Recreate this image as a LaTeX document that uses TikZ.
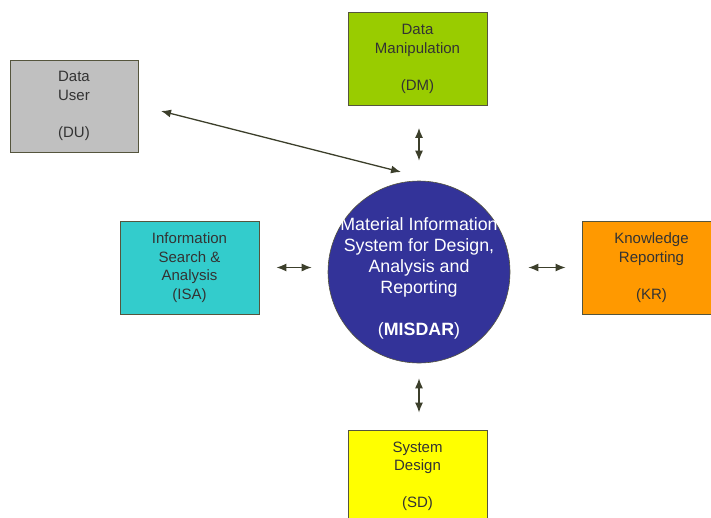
\documentclass[tikz,border=0pt]{standalone}
\usepackage{fontspec}
\setmainfont{Liberation Sans}
\usetikzlibrary{arrows.meta}

\definecolor{duGray}{HTML}{C0C0C0}
\definecolor{dmGreen}{HTML}{99CC00}
\definecolor{isaTeal}{HTML}{33CCCC}
\definecolor{krOrange}{HTML}{FF9900}
\definecolor{sdYellow}{HTML}{FFFF00}
\definecolor{misdarBlue}{HTML}{333399}
\definecolor{boxline}{HTML}{55553D}
\definecolor{boxtext}{HTML}{333333}
\definecolor{linkcol}{HTML}{3C3F2B}

\tikzset{
  unit/.style={draw=boxline, line width=0.8pt, inner sep=0pt,
    minimum width=139pt, minimum height=93pt, align=center,
    text=boxtext, font=\fontsize{15}{18.5}\selectfont},
  link/.style={draw=linkcol, line width=1.3pt,
    {Latex[length=10pt,width=8pt]}-{Latex[length=10pt,width=8pt]}},
}

\begin{document}
\begin{tikzpicture}[x=1pt, y=-1pt]
\useasboundingbox (0,0) rectangle (711,517);
\clip (0,0) rectangle (711,517);
% MISDAR core
\node[circle, fill=misdarBlue, draw=boxline, line width=0.6pt, minimum size=182pt, inner sep=0pt] (misdar) at (419,272) {};
\node[text=white, align=center, font=\fontsize{17.8}{21}\selectfont] (misdar-text) at ([yshift=-6pt]misdar.center)
  {Material Information\\System for Design,\\Analysis and\\Reporting\\~\\(\textbf{MISDAR})};
% Units
\node[unit, fill=duGray, minimum width=128pt, minimum height=92pt] (du) at (74,106) {Data\\User\\~\\(DU)};
\node[unit, fill=dmGreen] (dm) at (417.5,59) {Data\\Manipulation\\~\\(DM)};
\node[unit, fill=isaTeal] (isa) at (189.5,267.5) {Information\\Search \&\\Analysis\\(ISA)};
\node[unit, fill=krOrange] (kr) at (651.5,267.5) {Knowledge\\Reporting\\~\\(KR)};
\node[unit, fill=sdYellow] (sd) at (417.5,476.5) {System\\Design\\~\\(SD)};
% DU link
\coordinate (du-tip) at (161,111);
\coordinate (misdar-tip) at (401,172);
\draw[link] (du-tip) -- (misdar-tip);
% DM, ISA, KR, SD links
\draw[link, shorten <=22pt, shorten >=20pt] (dm.south -| misdar) -- (misdar.north);
\draw[link, shorten <=17pt, shorten >=16pt] (isa.east) -- (isa.east -| misdar.west);
\draw[link, shorten <=18pt, shorten >=16pt] (kr.west -| misdar.east) -- (kr.west);
\draw[link, shorten <=15pt, shorten >=17pt] (misdar.south) -- (sd.north -| misdar);
\end{tikzpicture}
\end{document}
